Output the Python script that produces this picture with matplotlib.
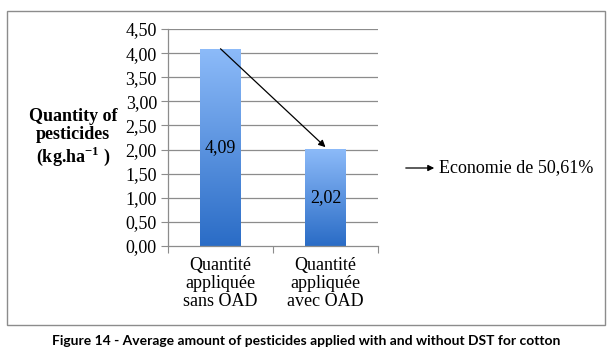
import numpy as np
import matplotlib
matplotlib.use("Agg")
import matplotlib.pyplot as plt
from matplotlib.colors import LinearSegmentedColormap
from matplotlib.patches import Rectangle, FancyArrowPatch
from matplotlib.ticker import FixedLocator

categories = ["Quantité\nappliquée\nsans OAD", "Quantité\nappliquée\navec OAD"]
values = [4.09, 2.02]
value_labels = ["4,09", "2,02"]
yticks = [0.0, 0.5, 1.0, 1.5, 2.0, 2.5, 3.0, 3.5, 4.0, 4.5]
ytick_labels = ["0,00", "0,50", "1,00", "1,50", "2,00", "2,50", "3,00", "3,50", "4,00", "4,50"]
note = "Economie de 50,61%"
caption = "Figure 14 - Average amount of pesticides applied with and without DST for cotton"

W, H = 613, 355
fig = plt.figure(figsize=(W / 100, H / 100), dpi=100)
serif = "Liberation Serif"
fs = 13

# outer chart frame
fig.patches.append(Rectangle((7 / W, 1 - 325 / H), 598 / W, 314 / H,
                             transform=fig.transFigure, fill=False,
                             edgecolor="#8c8c8c", linewidth=1.0))

ax = fig.add_axes([168 / W, 1 - 246 / H, 210 / W, 217 / H])
ax.set_xlim(-0.5, 1.5)
ax.set_ylim(0, 4.5)

for y in yticks[1:]:
    ax.axhline(y, color="#8c8c8c", linewidth=0.9, zorder=0)

# bars with a vertical gradient (dark at the base, light at the top)
cmap = LinearSegmentedColormap.from_list("bar", ["#2a6cc6", "#8dbbf9"])
grad = np.linspace(0, 1, 256).reshape(-1, 1)
width = 0.39
for i, v in enumerate(values):
    rect = Rectangle((i - width / 2, 0), width, v, facecolor="none",
                     edgecolor="none", zorder=2)
    ax.add_patch(rect)
    im = ax.imshow(grad, cmap=cmap, origin="lower", aspect="auto",
                   extent=(i - width / 2, i + width / 2, 0, v), zorder=2)
    im.set_clip_path(rect)
    ax.text(i, v / 2, value_labels[i], ha="center", va="center",
            fontsize=fs, family=serif, zorder=3)

ax.annotate("", xy=(1.0, 2.05), xytext=(0.0, 4.09),
            arrowprops=dict(arrowstyle="-|>", color="black", lw=0.9,
                            mutation_scale=10, shrinkA=0, shrinkB=0), zorder=4)

ax.yaxis.set_major_locator(FixedLocator(yticks))
ax.set_yticklabels(ytick_labels, family=serif, fontsize=fs)
ax.xaxis.set_major_locator(FixedLocator([-0.5, 0.5, 1.5]))
ax.set_xticklabels([])
ax.xaxis.set_minor_locator(FixedLocator([0, 1]))
ax.set_xticklabels(categories, minor=True, family=serif, fontsize=fs,
                   linespacing=1.08)
ax.tick_params(axis="x", which="major", length=5, color="#8c8c8c", direction="out")
ax.tick_params(axis="x", which="minor", length=0, pad=8)
ax.tick_params(axis="y", length=5, color="#8c8c8c", pad=3)
for s in ["top", "right"]:
    ax.spines[s].set_visible(False)
for s in ["left", "bottom"]:
    ax.spines[s].set_color("#8c8c8c")
    ax.spines[s].set_linewidth(0.9)

fig.text(73 / W, 1 - 138 / H, "Quantity of\npesticides\n(kg.ha$^{\\mathregular{-1}}$ )",
         ha="center", va="center", fontsize=fs, fontweight="bold",
         family=serif, linespacing=1.12)

fig.text(439 / W, 1 - 168 / H, note, ha="left", va="center",
         fontsize=fs, family=serif)
fig.patches.append(FancyArrowPatch(
    (403 / W, 1 - 168 / H), (437 / W, 1 - 168 / H), transform=fig.transFigure,
    arrowstyle="-|>", mutation_scale=9, color="black", lw=0.9))

fig.text(306 / W, 1 - 341 / H, caption, ha="center", va="center",
         fontsize=10, fontweight="bold", family="Lato")

fig.savefig("out.png", dpi=100)
